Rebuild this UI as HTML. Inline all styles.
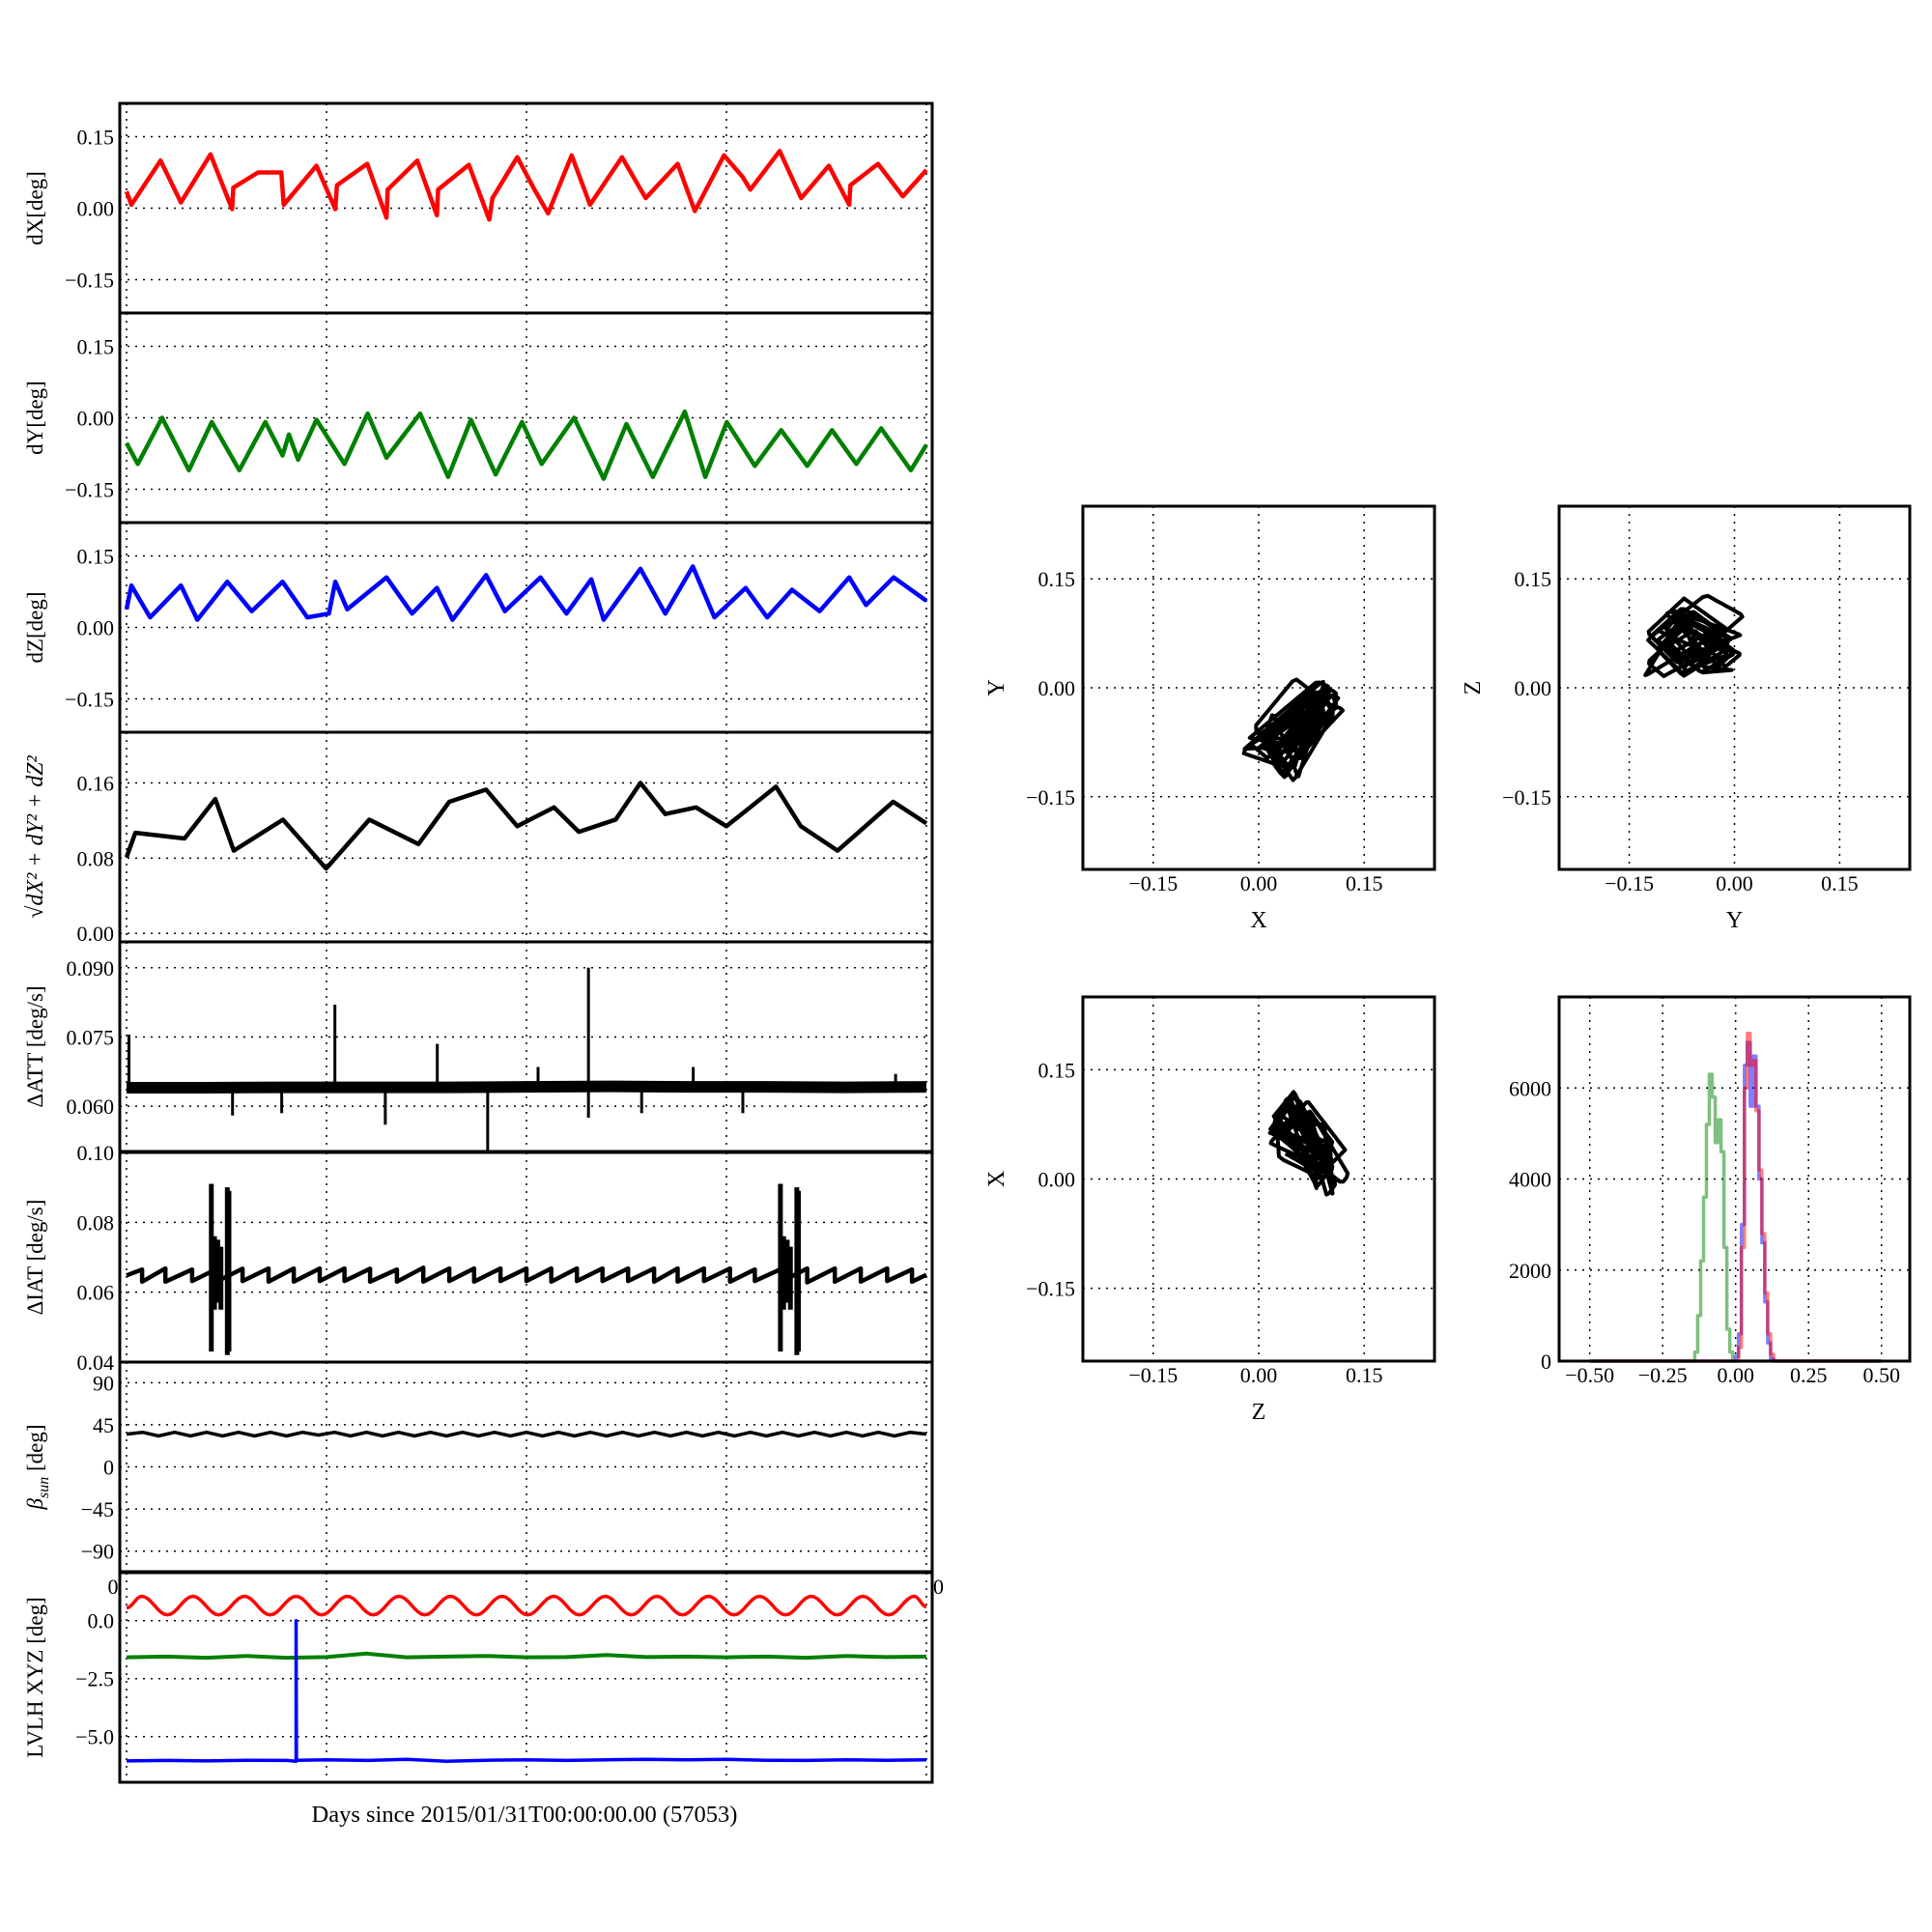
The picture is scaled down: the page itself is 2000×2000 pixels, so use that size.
<!DOCTYPE html>
<html><head><meta charset="utf-8"><title>Attitude diagnostics</title>
<style>
html,body{margin:0;padding:0;background:#fff;}
svg{display:block;font-family:"Liberation Serif","DejaVu Serif",serif;}
</style></head>
<body>
<svg id="chart" width="2000" height="2000" viewBox="0 0 2000 2000" xmlns="http://www.w3.org/2000/svg">
<rect x="0" y="0" width="2000" height="2000" fill="#fff"/>
</svg>
<script>
// ---------- data ----------
const dxDays=[0,0.12,0.85,1.36,2.10,2.64,2.67,3.29,3.87,3.93,4.75,5.22,5.26,6.02,6.50,6.53,7.27,7.76,7.79,8.56,9.07,9.15,9.77,10.20,10.54,11.13,11.59,12.39,12.98,13.78,14.21,14.94,15.40,15.60,16.33,16.87,17.56,18.07,18.10,18.79,19.41,20.0];
const dxVals=[0.035,0.007,0.100,0.012,0.113,-0.002,0.043,0.075,0.075,0.007,0.089,-0.002,0.048,0.093,-0.020,0.039,0.100,-0.015,0.039,0.091,-0.024,0.021,0.107,0.039,-0.011,0.111,0.007,0.107,0.021,0.093,-0.006,0.111,0.066,0.039,0.120,0.021,0.089,0.007,0.048,0.093,0.025,0.080];
const dyDays=[0,0.28,0.89,1.56,2.13,2.82,3.47,3.90,4.06,4.29,4.75,5.45,6.03,6.50,7.34,8.04,8.61,9.23,9.89,10.38,11.19,11.93,12.50,13.16,13.96,14.47,15.01,15.71,16.37,17.02,17.64,18.25,18.87,19.61,20.0];
const dyVals=[-0.053,-0.097,0.0,-0.110,-0.009,-0.110,-0.009,-0.079,-0.035,-0.088,-0.004,-0.097,0.009,-0.084,0.009,-0.124,-0.004,-0.119,-0.009,-0.097,0.0,-0.128,-0.013,-0.124,0.013,-0.124,-0.009,-0.101,-0.026,-0.101,-0.026,-0.097,-0.022,-0.110,-0.057];
const dzDays=[0,0.12,0.59,1.36,1.77,2.52,3.13,3.90,4.52,5.06,5.22,5.52,6.50,7.14,7.76,8.15,8.99,9.46,10.35,11.00,11.62,11.93,12.85,13.47,14.16,14.70,15.48,16.02,16.64,17.33,18.07,18.49,19.18,20.0];
const dzVals=[0.038,0.088,0.021,0.088,0.016,0.096,0.034,0.096,0.021,0.029,0.096,0.038,0.105,0.029,0.083,0.016,0.110,0.034,0.105,0.029,0.101,0.016,0.123,0.029,0.128,0.021,0.083,0.021,0.079,0.034,0.105,0.047,0.105,0.056];
const rDays=[0,0.22,1.45,2.22,2.68,3.91,4.99,6.07,7.30,8.07,8.99,9.77,10.69,11.31,12.23,12.85,13.47,14.24,15.0,16.24,16.86,17.78,19.17,20.0];
const rVals=[0.081,0.107,0.101,0.143,0.088,0.121,0.069,0.121,0.095,0.140,0.153,0.114,0.134,0.108,0.121,0.160,0.127,0.134,0.114,0.156,0.114,0.088,0.140,0.117];
const attDays=[0,2,4,6,8,10,12,14,16,18,20];
const attVals=[0.0640,0.0640,0.0641,0.0641,0.0641,0.0642,0.0643,0.0642,0.0642,0.0641,0.0642];
const attSpikeDays=[0.06,5.21,7.77,10.29,11.55,14.17,19.23,2.65,3.88,6.47,9.03,11.55,12.88,15.41];
const attSpikeVals=[0.0755,0.082,0.0735,0.0685,0.090,0.0685,0.067,0.058,0.0585,0.056,0.0505,0.0575,0.0585,0.0585];
const iatDropDays=[0.39,0.97,1.64,2.28,2.90,3.55,4.18,4.83,5.45,6.09,6.76,7.42,8.07,8.69,9.35,10.0,10.62,11.26,11.90,12.54,13.19,13.78,14.44,15.09,15.71,16.40,17.02,17.71,18.36,19.02,19.64];
const iatHigh=[0.0665,0.0668,0.0665,0.0668,0.0667,0.0668,0.0668,0.0668,0.0668,0.0667,0.0665,0.0670,0.0668,0.0668,0.0668,0.0668,0.0668,0.0668,0.0668,0.0668,0.0668,0.0668,0.0668,0.0668,0.0665,0.0668,0.0668,0.0668,0.0668,0.0668,0.0665];
const iatLow=[0.0630,0.0630,0.0632,0.0632,0.0632,0.0630,0.0630,0.0632,0.0632,0.0630,0.0630,0.0630,0.0632,0.0630,0.0632,0.0632,0.0630,0.0632,0.0632,0.0632,0.0630,0.0630,0.0632,0.0630,0.0632,0.0632,0.0628,0.0630,0.0630,0.0632,0.0630];
const iatBurstDays=[2.12,2.20,2.28,2.36,2.52,2.56,16.35,16.43,16.52,16.60,16.76,16.80];
const iatBurstMin=[0.043,0.055,0.057,0.055,0.042,0.043,0.043,0.055,0.057,0.055,0.042,0.043];
const iatBurstMax=[0.091,0.076,0.075,0.073,0.090,0.089,0.091,0.076,0.075,0.073,0.090,0.089];
const betaDays=[0,0.4,0.8,1.2,1.6,2.0,2.4,2.8,3.2,3.6,4.0,4.4,4.8,5.2,5.6,6.0,6.4,6.8,7.2,7.6,8.0,8.4,8.8,9.2,9.6,10.0,10.4,10.8,11.2,11.6,12.0,12.4,12.8,13.2,13.6,14.0,14.4,14.8,15.2,15.6,16.0,16.4,16.8,17.2,17.6,18.0,18.4,18.8,19.2,19.6,20.0];
const betaVals=[35,37,33,37,33,37,33,37,33,37,33,37,34,37,33,37,33,37,33,37,33,37,33,37,33,37,33,37,33,37,33,37,33,37,33,37,33,37,33,37,33,37,33,37,33,37,33,37,33,37,35];
const lvxDays=[0,0.38,1.02,1.66,2.30,2.95,3.59,4.24,4.88,5.52,6.17,6.81,7.46,8.10,8.75,9.39,10.03,10.68,11.32,11.97,12.62,13.26,13.90,14.55,15.19,15.83,16.48,17.12,17.77,18.41,19.06,19.70,20.0];
const lvxVals=[0.55,1.05,0.25,1.05,0.25,1.05,0.25,1.05,0.25,1.05,0.25,1.05,0.25,1.05,0.25,1.05,0.25,1.05,0.25,1.05,0.25,1.05,0.25,1.05,0.25,1.05,0.25,1.05,0.25,1.05,0.25,1.05,0.6];
const lvyDays=[0,1,2,3,4,5,6,7,8,9,10,11,12,13,14,15,16,17,18,19,20];
const lvyVals=[-1.58,-1.55,-1.60,-1.52,-1.60,-1.57,-1.42,-1.58,-1.55,-1.52,-1.58,-1.57,-1.48,-1.57,-1.55,-1.58,-1.55,-1.60,-1.52,-1.57,-1.55];
const lvzDays=[0,1,2,3,4,4.24,4.24,4.25,5,6,7,8,9,10,11,12,13,14,15,16,17,18,19,20];
const lvzVals=[-6.05,-6.03,-6.05,-6.02,-6.03,-6.06,0.0,-6.02,-6.00,-6.03,-5.98,-6.06,-6.02,-6.0,-6.03,-6.0,-5.98,-6.0,-5.98,-6.02,-6.03,-6.0,-6.02,-6.0];
const histGreenStart=-0.15, histRBStart=0.0, histBin=0.01;
const histGreen=[0,200,1000,2200,3600,5200,6300,5800,4800,5300,4600,2500,700,200,0];
const histRed=[0,300,2500,6000,7200,6500,6600,5500,4200,2800,1500,600,150,0];
const histBlue=[100,600,3000,6500,7000,5600,6700,5600,4000,2600,1300,400,50,0];
const scatterTicks=[-0.15,0,0.15], scatterTickLabels=["\u22120.15","0.00","0.15"];
const histXTicks=[-0.5,-0.25,0,0.25,0.5], histXTickLabels=["\u22120.50","\u22120.25","0.00","0.25","0.50"];
const histYTicks=[0,2000,4000,6000], histYTickLabels=["0","2000","4000","6000"];
const dayTicks=[0,5,10,15,20];

// ---------- helpers ----------
const NS="http://www.w3.org/2000/svg";
const svg=document.getElementById('chart');
function mk(tag,parent){const e=document.createElementNS(NS,tag);parent.appendChild(e);return e;}
function lin(d0,d1,r0,r1){return v=>r0+(v-d0)/(d1-d0)*(r1-r0);}
function txt(parent,x,y,s,anchor,size){const t=mk('text',parent);t.setAttribute('x',x);t.setAttribute('y',y);t.setAttribute('text-anchor',anchor||'middle');t.setAttribute('font-size',size||22);t.setAttribute('fill','#000');t.textContent=s;return t;}
function gridLine(parent,x1,y1,x2,y2){const l=mk('line',parent);l.setAttribute('x1',x1);l.setAttribute('y1',y1);l.setAttribute('x2',x2);l.setAttribute('y2',y2);l.setAttribute('stroke','#000');l.setAttribute('stroke-width',1.5);l.setAttribute('stroke-dasharray','2,6');return l;}
function frame(parent,x,y,w,h){const r=mk('rect',parent);r.setAttribute('x',x);r.setAttribute('y',y);r.setAttribute('width',w);r.setAttribute('height',h);r.setAttribute('fill','none');r.setAttribute('stroke','#000');r.setAttribute('stroke-width',3);return r;}
function poly(parent,xs,ys,sx,sy,color,w,op){const p=mk('polyline',parent);p.setAttribute('points',xs.map((v,i)=>sx(v).toFixed(1)+','+sy(ys[i]).toFixed(1)).join(' '));p.setAttribute('fill','none');p.setAttribute('stroke',color);p.setAttribute('stroke-width',w);p.setAttribute('stroke-linejoin','round');if(op)p.setAttribute('stroke-opacity',op);return p;}
function interp(xs,ys,t){for(let i=1;i<xs.length;i++){if(t<=xs[i]){const a=(t-xs[i-1])/((xs[i]-xs[i-1])||1);return ys[i-1]+a*(ys[i]-ys[i-1]);}}return ys[ys.length-1];}

// ---------- left time-series panels ----------
const LX0=124,LX1=965,PH=217;
const tops=[107,324,541,758,975,1193,1410,1628];
const sxDay=lin(0,20,131,959);
const panels=[
 {name:'dx-panel',label:'dX[deg]',yd:[-0.22,0.22],ticks:[0.15,0,-0.15],tl:['0.15','0.00','\u22120.15']},
 {name:'dy-panel',label:'dY[deg]',yd:[-0.22,0.22],ticks:[0.15,0,-0.15],tl:['0.15','0.00','\u22120.15']},
 {name:'dz-panel',label:'dZ[deg]',yd:[-0.22,0.22],ticks:[0.15,0,-0.15],tl:['0.15','0.00','\u22120.15']},
 {name:'total-panel',label:'\u221AdX\u00B2 + dY\u00B2 + dZ\u00B2',yd:[-0.009,0.214],ticks:[0.16,0.08,0],tl:['0.16','0.08','0.00']},
 {name:'delta-att-panel',label:'\u0394ATT [deg/s]',yd:[0.0502,0.0956],ticks:[0.09,0.075,0.06],tl:['0.090','0.075','0.060']},
 {name:'delta-iat-panel',label:'\u0394IAT [deg/s]',yd:[0.04,0.10],ticks:[0.10,0.08,0.06,0.04],tl:['0.10','0.08','0.06','0.04']},
 {name:'beta-sun-panel',label:'BETA',yd:[-112,112],ticks:[90,45,0,-45,-90],tl:['90','45','0','\u221245','\u221290']},
 {name:'lvlh-panel',label:'LVLH XYZ [deg]',yd:[-6.97,2.07],ticks:[0,-2.5,-5],tl:['0.0','\u22122.5','\u22125.0']}
];
const scales=[];
panels.forEach((p,i)=>{
  const g=mk('g',svg);
  
  
  const y0=tops[i],y1=y0+PH;
  const sy=lin(p.yd[0],p.yd[1],y1,y0);
  scales.push(sy);
  dayTicks.forEach(d=>{const l=gridLine(g,sxDay(d),y0,sxDay(d),y1);
    
    });
  p.ticks.forEach((v,k)=>{
    const yy=sy(v);
    if(yy>y0+2&&yy<y1-2){const l=gridLine(g,LX0,yy,LX1,yy);
      
      }
    const t=txt(g,118,yy+8,p.tl[k],'end',22);
    
    
  });
  let lab;
  if(p.label==='BETA'){
    lab=mk('text',g);lab.setAttribute('text-anchor','middle');lab.setAttribute('font-size',23);
    const a=mk('tspan',lab);a.setAttribute('font-style','italic');a.textContent='\u03B2';
    const b=mk('tspan',lab);b.setAttribute('font-style','italic');b.setAttribute('font-size',16);b.setAttribute('dy',6);b.textContent='sun';
    const c=mk('tspan',lab);c.setAttribute('dy',-6);c.textContent=' [deg]';
  } else lab=txt(g,0,0,p.label,'middle',23);
  lab.setAttribute('transform','translate(44,'+(y0+PH/2)+') rotate(-90)');
  if(i===3){lab.setAttribute('font-style','italic');lab.setAttribute('font-size',24);}
  
  
});
let s;
s=poly(svg,dxDays,dxVals,sxDay,scales[0],'#ff0000',4.5);


s=poly(svg,dyDays,dyVals,sxDay,scales[1],'#008000',4.5);


s=poly(svg,dzDays,dzVals,sxDay,scales[2],'#0000ff',4.5);


s=poly(svg,rDays,rVals,sxDay,scales[3],'#000',4.5);


s=poly(svg,attDays,attVals,sxDay,scales[4],'#000',12);


attSpikeDays.forEach((d,k)=>{
  const l=mk('line',svg);
  l.setAttribute('x1',sxDay(d));l.setAttribute('x2',sxDay(d));
  l.setAttribute('y1',scales[4](0.0642));l.setAttribute('y2',scales[4](attSpikeVals[k]));
  l.setAttribute('stroke','#000');l.setAttribute('stroke-width',3);
  
  
});
(function(){
  const xs=[0],ys=[0.0648];
  iatDropDays.forEach((d,k)=>{xs.push(d);ys.push(iatHigh[k]);xs.push(d);ys.push(iatLow[k]);});
  xs.push(20);ys.push(0.0650);
  const p=poly(svg,xs,ys,sxDay,scales[5],'#000',4.5);
  
  
  iatBurstDays.forEach((d,k)=>{
    const l=mk('line',svg);
    l.setAttribute('x1',sxDay(d));l.setAttribute('x2',sxDay(d));
    l.setAttribute('y1',scales[5](iatBurstMin[k]));l.setAttribute('y2',scales[5](iatBurstMax[k]));
    l.setAttribute('stroke','#000');l.setAttribute('stroke-width',5);
    
    
  });
})();
s=poly(svg,betaDays,betaVals,sxDay,scales[6],'#000',3.5);


(function(){
  const xs=[],ys=[];
  for(let i=0;i<lvxDays.length-1;i++){for(let k=0;k<8;k++){const a=k/8;const w=(1-Math.cos(Math.PI*a))/2;xs.push(lvxDays[i]+a*(lvxDays[i+1]-lvxDays[i]));ys.push(lvxVals[i]+w*(lvxVals[i+1]-lvxVals[i]));}}
  xs.push(lvxDays[lvxDays.length-1]);ys.push(lvxVals[lvxVals.length-1]);
  const p=poly(svg,xs,ys,sxDay,scales[7],'#ff0000',3.5);
  
  
})();
s=poly(svg,lvyDays,lvyVals,sxDay,scales[7],'#008000',4);


s=poly(svg,lvzDays,lvzVals,sxDay,scales[7],'#0000ff',3.5);


tops.forEach(y0=>{const r=frame(svg,LX0,y0,LX1-LX0,PH);
  
  });
let t;
t=txt(svg,117,1650,'0','middle',22);


t=txt(svg,966,1650,'0','start',22);


t=txt(svg,543,1886,'Days since 2015/01/31T00:00:00.00 (57053)','middle',24.5);



// ---------- scatter panels ----------
const tsamp=[];for(let i=0;i<=800;i++)tsamp.push(i*0.025);
function scatterPanel(name,x0,y0,w,h,xs,ys,xl,yl){
  const g=mk('g',svg);
  
  
  const sx=lin(-0.25,0.25,x0,x0+w), sy=lin(-0.25,0.25,y0+h,y0);
  scatterTicks.forEach((v,k)=>{
    let l=gridLine(g,sx(v),y0,sx(v),y0+h);
    
    
    l=gridLine(g,x0,sy(v),x0+w,sy(v));
    
    
    let tt=txt(g,sx(v),y0+h+22,scatterTickLabels[k],'middle',22);
    
    
    tt=txt(g,x0-8,sy(v)+8,scatterTickLabels[k],'end',22);
    
    
  });
  const p=poly(g,xs,ys,sx,sy,'#000',4,1);
  
  
  let tt=txt(g,x0+w/2,y0+h+60,xl,'middle',24);
  
  
  tt=txt(g,0,0,yl,'middle',24);
  tt.setAttribute('transform','translate('+(x0-82)+','+(y0+h/2)+') rotate(-90)');
  
  
  const r=frame(g,x0,y0,w,h);
  
  
}
const sX=tsamp.map(t=>interp(dxDays,dxVals,t)), sY=tsamp.map(t=>interp(dyDays,dyVals,t)), sZ=tsamp.map(t=>interp(dzDays,dzVals,t));
scatterPanel('x-vs-y-scatter',1121,524,364,376,sX,sY,'X','Y');
scatterPanel('y-vs-z-scatter',1614,524,363,376,sY,sZ,'Y','Z');
scatterPanel('z-vs-x-scatter',1121,1032,364,377,sZ,sX,'Z','X');

// ---------- histogram ----------
(function(){
  const x0=1614,y0=1032,w=363,h=377;
  const g=mk('g',svg);
  
  
  const sx=lin(-0.605,0.597,x0,x0+w), sy=lin(0,8000,y0+h,y0);
  histXTicks.forEach((v,k)=>{
    const l=gridLine(g,sx(v),y0,sx(v),y0+h);
    
    
    const tt=txt(g,sx(v),y0+h+22,histXTickLabels[k],'middle',22);
    
    
  });
  histYTicks.forEach((v,k)=>{
    if(v>0){const l=gridLine(g,x0,sy(v),x0+w,sy(v));
      
      }
    const tt=txt(g,x0-8,sy(v)+8,histYTickLabels[k],'end',22);
    
    
  });
  function step(counts,start,color,name){
    const xs=[-0.5,start],ys=[0,0];
    counts.forEach((c,i)=>{xs.push(start+i*histBin);ys.push(c);xs.push(start+(i+1)*histBin);ys.push(c);});
    xs.push(start+counts.length*histBin);ys.push(0);xs.push(0.5);ys.push(0);
    const p=poly(g,xs,ys,sx,sy,color,3.5,0.5);
    
    
  }
  step(histGreen,histGreenStart,'#008000','histogram-y');
  step(histBlue,histRBStart,'#0000ff','histogram-z');
  step(histRed,histRBStart,'#ff0000','histogram-x');
  const r=frame(g,x0,y0,w,h);
  
  
})();
</script>
</body></html>
